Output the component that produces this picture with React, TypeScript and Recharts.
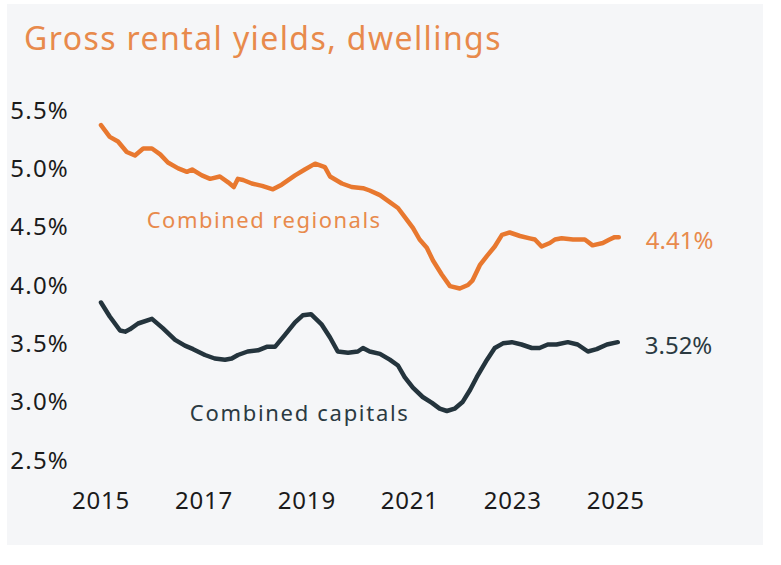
import React from 'react';
import { LineChart, Line, XAxis, YAxis, ReferenceDot, LabelList } from 'recharts';

// decimal year, yield %
const regionalDates = [
  2015.0, 2015.17, 2015.33, 2015.5, 2015.66, 2015.82, 2015.99, 2016.15, 2016.3, 2016.5,
  2016.67, 2016.77, 2016.96, 2017.12, 2017.31, 2017.47, 2017.58, 2017.66, 2017.76, 2017.93,
  2018.13, 2018.34, 2018.51, 2018.77, 2018.96, 2019.16, 2019.35, 2019.45, 2019.68, 2019.87,
  2020.09, 2020.22, 2020.42, 2020.61, 2020.77, 2020.94, 2021.06, 2021.19, 2021.33, 2021.45,
  2021.62, 2021.78, 2021.97, 2022.13, 2022.22, 2022.36, 2022.5, 2022.65, 2022.79, 2022.94,
  2023.14, 2023.33, 2023.43, 2023.56, 2023.72, 2023.82, 2023.95, 2024.17, 2024.4, 2024.55,
  2024.75, 2024.88, 2024.98, 2025.06,
];
const regionalYields = [
  5.37, 5.27, 5.23, 5.14, 5.11, 5.17, 5.17, 5.12, 5.05, 5.0,
  4.97, 4.99, 4.94, 4.91, 4.93, 4.88, 4.84, 4.91, 4.9, 4.87,
  4.85, 4.82, 4.86, 4.94, 4.99, 5.04, 5.01, 4.93, 4.87, 4.84,
  4.83, 4.81, 4.77, 4.71, 4.66, 4.56, 4.49, 4.39, 4.32, 4.21,
  4.09, 3.99, 3.97, 4.0, 4.04, 4.17, 4.25, 4.33, 4.43, 4.45,
  4.42, 4.4, 4.39, 4.33, 4.36, 4.39, 4.4, 4.39, 4.39, 4.34,
  4.36, 4.39, 4.41, 4.41,
];

const capitalDates = [
  2015.0, 2015.17, 2015.37, 2015.47, 2015.56, 2015.72, 2015.99, 2016.2, 2016.44, 2016.63,
  2016.79, 2017.02, 2017.21, 2017.41, 2017.54, 2017.66, 2017.85, 2018.05, 2018.22, 2018.38,
  2018.57, 2018.77, 2018.92, 2019.08, 2019.29, 2019.45, 2019.6, 2019.8, 2019.99, 2020.09,
  2020.22, 2020.42, 2020.61, 2020.77, 2020.9, 2021.06, 2021.25, 2021.43, 2021.58, 2021.72,
  2021.87, 2022.03, 2022.17, 2022.3, 2022.5, 2022.65, 2022.81, 2022.98, 2023.17, 2023.37,
  2023.52, 2023.68, 2023.85, 2024.07, 2024.26, 2024.46, 2024.63, 2024.83, 2025.04,
];
const capitalYields = [
  3.85, 3.73, 3.61, 3.6, 3.62, 3.67, 3.71, 3.63, 3.53, 3.48,
  3.45, 3.4, 3.37, 3.36, 3.37, 3.4, 3.43, 3.44, 3.47, 3.47,
  3.57, 3.68, 3.74, 3.75, 3.66, 3.55, 3.43, 3.42, 3.43, 3.46,
  3.43, 3.41, 3.36, 3.31, 3.21, 3.12, 3.04, 2.99, 2.94, 2.92,
  2.94, 3.0, 3.1, 3.21, 3.36, 3.46, 3.5, 3.51, 3.49, 3.46,
  3.46, 3.49, 3.49, 3.51, 3.49, 3.43, 3.45, 3.49, 3.51,
];

const yearTicks = [2015, 2017, 2019, 2021, 2023, 2025];
const yieldTicks = [2.5, 3.0, 3.5, 4.0, 4.5, 5.0, 5.5];
const latestLabels = { regional: '4.41%', capital: '3.52%' };

const ORANGE = '#e8782f';
const ORANGE_TEXT = '#e88a4c';
const DARK = '#24343d';
const FONT = '"Noto Sans", sans-serif';

const regionalData = regionalDates.map((d, i) => ({ date: d, value: regionalYields[i] }));
const capitalData = capitalDates.map((d, i) => ({ date: d, value: capitalYields[i] }));

const endLabel = (text: string, color: string, count: number) => (props: any) => {
  if (props.index !== count - 1) return null;
  return (
    <text x={props.x + 27} y={props.y + 2} fill={color} fontSize={24} fontFamily={FONT} dominantBaseline="central">
      {text}
    </text>
  );
};

export default function App() {
  return (
    <div style={{ position: 'absolute', left: 0, top: 0, width: 781, height: 565, background: '#fff', fontFamily: FONT }}>
      <div style={{ position: 'absolute', left: 7, top: 4, width: 756, height: 541, background: '#f5f6f8' }} />
      <div style={{ position: 'absolute', left: 24, top: 22, fontSize: 32, lineHeight: 1, letterSpacing: 1.4, color: ORANGE_TEXT }}>
        Gross rental yields, dwellings
      </div>
      <div style={{ position: 'absolute', left: 0, top: 0 }}>
        <LineChart width={781} height={565} margin={{ top: 110, right: 155, bottom: 45, left: 0 }}>
          <XAxis
            type="number"
            dataKey="date"
            domain={[2015, 2025.2]}
            ticks={yearTicks}
            allowDuplicatedCategory={false}
            axisLine={false}
            tickLine={false}
            tickSize={0}
            tickMargin={32}
            height={60}
            tick={{ fill: '#1b1b1b', fontSize: 24, fontFamily: FONT, style: { letterSpacing: 0.8 } }}
          />
          <YAxis
            type="number"
            domain={[2.5, 5.5]}
            ticks={yieldTicks}
            width={101}
            axisLine={false}
            tickLine={false}
            tickSize={0}
            tickMargin={32}
            tickFormatter={(v: number) => v.toFixed(1) + '%'}
            tick={{ fill: '#1b1b1b', fontSize: 24, fontFamily: FONT, style: { letterSpacing: 1.2 } }}
          />
          <Line
            data={regionalData}
            dataKey="value"
            type="linear"
            stroke={ORANGE}
            strokeWidth={4.5}
            strokeLinejoin="round"
            strokeLinecap="round"
            dot={false}
            isAnimationActive={false}
          >
            <LabelList dataKey="value" content={endLabel(latestLabels.regional, ORANGE_TEXT, regionalData.length)} />
          </Line>
          <Line
            data={capitalData}
            dataKey="value"
            type="linear"
            stroke={DARK}
            strokeWidth={4.5}
            strokeLinejoin="round"
            strokeLinecap="round"
            dot={false}
            isAnimationActive={false}
          >
            <LabelList dataKey="value" content={endLabel(latestLabels.capital, '#2b3a42', capitalData.length)} />
          </Line>
          <ReferenceDot
            x={2018.17}
            y={4.557}
            r={0}
            label={{ value: 'Combined regionals', fill: ORANGE_TEXT, fontSize: 22, fontFamily: FONT, position: 'center', style: { letterSpacing: 1.5 } }}
          />
          <ReferenceDot
            x={2018.86}
            y={2.903}
            r={0}
            label={{ value: 'Combined capitals', fill: '#2b3a42', fontSize: 22, fontFamily: FONT, position: 'center', style: { letterSpacing: 1.7 } }}
          />
        </LineChart>
      </div>
    </div>
  );
}
